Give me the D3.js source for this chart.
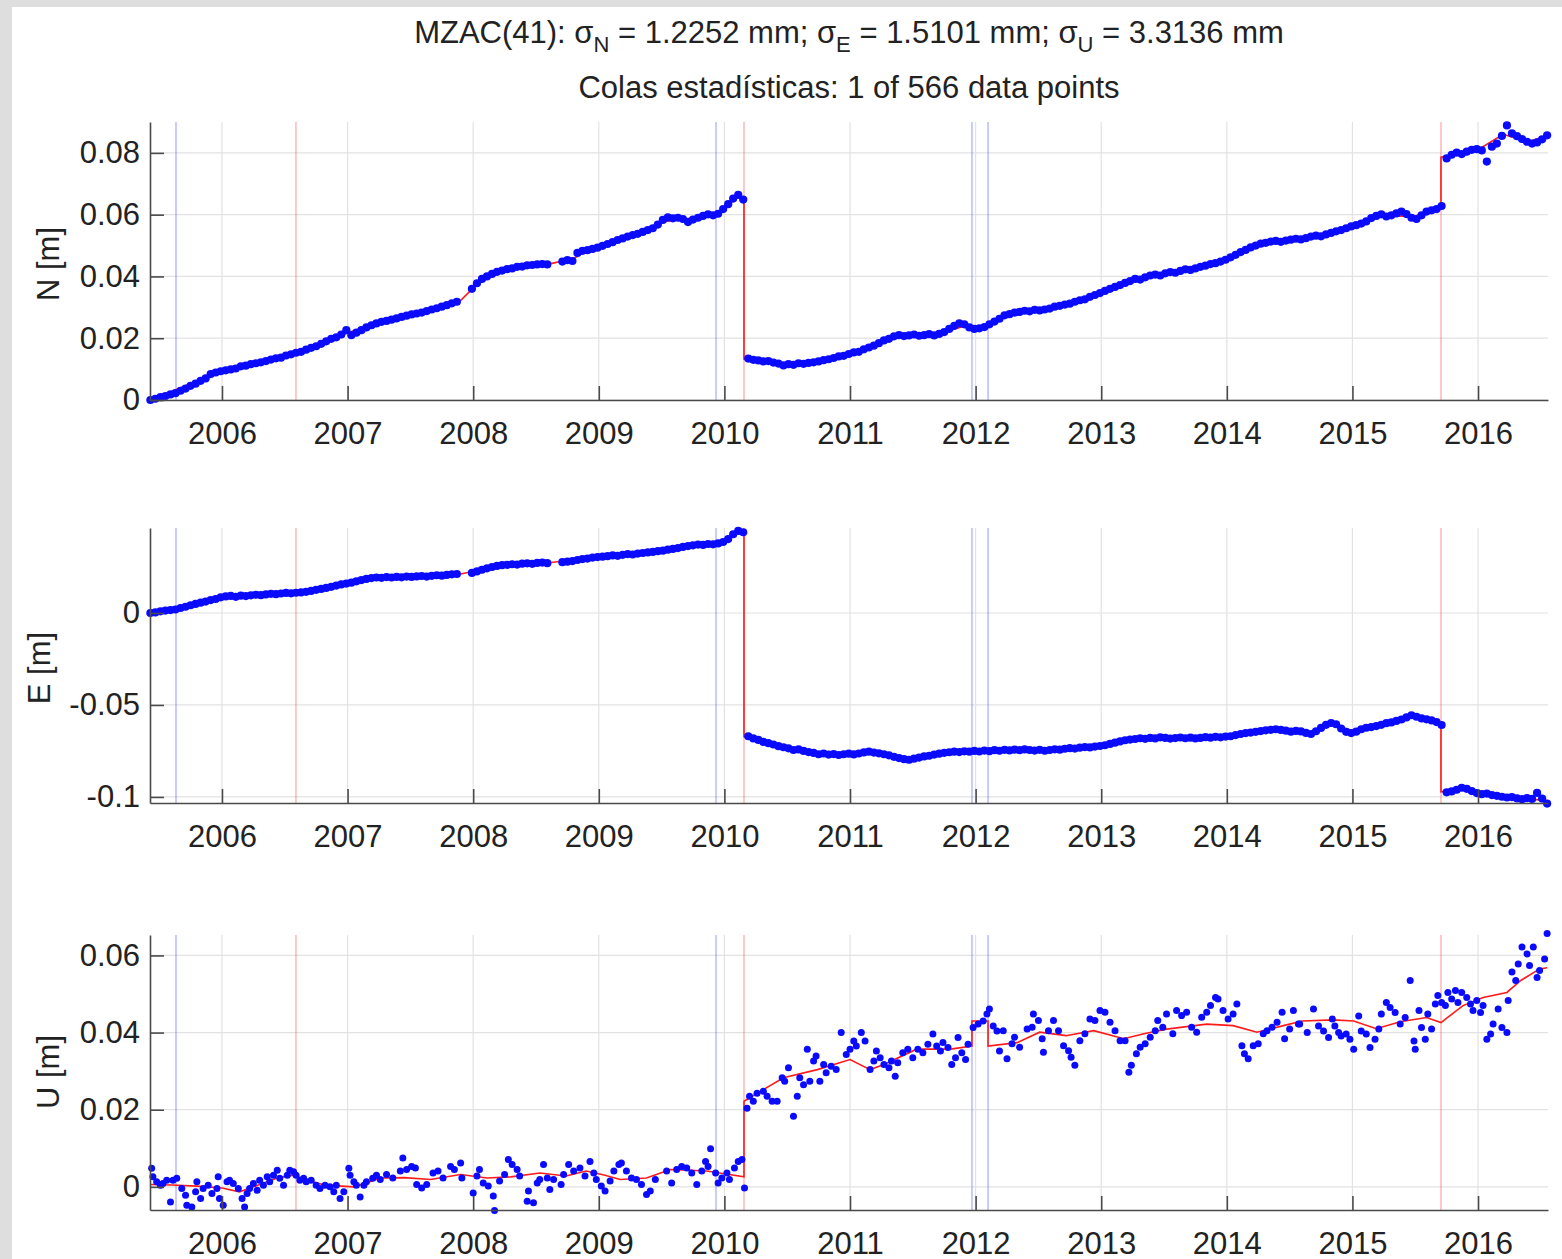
<!DOCTYPE html>
<html>
<head>
<meta charset="utf-8">
<script src="https://cdn.jsdelivr.net/npm/d3@7"></script>
<style>
  body { margin: 0; background: #fff; }
  svg text { font-family: "Liberation Sans", Arial, Helvetica, sans-serif; fill: #222; }
</style>
</head>
<body>
<div id="vis"></div>
<script>
// ---------------- datos (mm, años decimales) ----------------
const yearTicks = [2006, 2007, 2008, 2009, 2010, 2011, 2012, 2013, 2014, 2015, 2016];
const ticksN = [0, 0.02, 0.04, 0.06, 0.08];
const ticksE = [-0.1, -0.05, 0];
const ticksU = [0, 0.02, 0.04, 0.06];

// lineas de eventos (azul = cambio de equipo, rojo = sismo)
const blueEvents = [2005.634, 2009.933, 2011.971, 2012.099];
const redEvents = [2006.589, 2010.156, 2015.705];

// epocas de N y E (cada ~2 semanas)
const epochsNE = [
  2005.43, 2005.47, 2005.51, 2005.55, 2005.59, 2005.63, 2005.67, 2005.71, 2005.75, 2005.79, 2005.83, 2005.87, 2005.91, 2005.95, 2005.99,
  2006.03, 2006.07, 2006.11, 2006.15, 2006.19, 2006.23, 2006.27, 2006.31, 2006.35, 2006.39, 2006.43, 2006.47, 2006.51, 2006.55, 2006.59, 2006.63, 2006.67, 2006.71, 2006.75, 2006.79, 2006.83, 2006.87, 2006.91, 2006.95, 2006.99,
  2007.03, 2007.07, 2007.11, 2007.15, 2007.19, 2007.23, 2007.27, 2007.31, 2007.35, 2007.39, 2007.43, 2007.47, 2007.51, 2007.55, 2007.59, 2007.63, 2007.67, 2007.71, 2007.75, 2007.79, 2007.83, 2007.87, 2007.91, 2007.95, 2007.99,
  2008.03, 2008.07, 2008.11, 2008.15, 2008.19, 2008.23, 2008.27, 2008.31, 2008.35, 2008.39, 2008.43, 2008.47, 2008.51, 2008.55, 2008.59, 2008.63, 2008.67, 2008.71, 2008.75, 2008.79, 2008.83, 2008.87, 2008.91, 2008.95, 2008.99,
  2009.03, 2009.07, 2009.11, 2009.15, 2009.19, 2009.23, 2009.27, 2009.31, 2009.35, 2009.39, 2009.43, 2009.47, 2009.51, 2009.55, 2009.59, 2009.63, 2009.67, 2009.71, 2009.75, 2009.79, 2009.83, 2009.87, 2009.91, 2009.95, 2009.99,
  2010.03, 2010.07, 2010.11, 2010.15, 2010.19, 2010.23, 2010.27, 2010.31, 2010.35, 2010.39, 2010.43, 2010.47, 2010.51, 2010.55, 2010.59, 2010.63, 2010.67, 2010.71, 2010.75, 2010.79, 2010.83, 2010.87, 2010.91, 2010.95, 2010.99,
  2011.03, 2011.07, 2011.11, 2011.15, 2011.19, 2011.23, 2011.27, 2011.31, 2011.35, 2011.39, 2011.43, 2011.47, 2011.51, 2011.55, 2011.59, 2011.63, 2011.67, 2011.71, 2011.75, 2011.79, 2011.83, 2011.87, 2011.91, 2011.95, 2011.99,
  2012.03, 2012.07, 2012.11, 2012.15, 2012.19, 2012.23, 2012.27, 2012.31, 2012.35, 2012.39, 2012.43, 2012.47, 2012.51, 2012.55, 2012.59, 2012.63, 2012.67, 2012.71, 2012.75, 2012.79, 2012.83, 2012.87, 2012.91, 2012.95, 2012.99,
  2013.03, 2013.07, 2013.11, 2013.15, 2013.19, 2013.23, 2013.27, 2013.31, 2013.35, 2013.39, 2013.43, 2013.47, 2013.51, 2013.55, 2013.59, 2013.63, 2013.67, 2013.71, 2013.75, 2013.79, 2013.83, 2013.87, 2013.91, 2013.95, 2013.99,
  2014.03, 2014.07, 2014.11, 2014.15, 2014.19, 2014.23, 2014.27, 2014.31, 2014.35, 2014.39, 2014.43, 2014.47, 2014.51, 2014.55, 2014.59, 2014.63, 2014.67, 2014.71, 2014.75, 2014.79, 2014.83, 2014.87, 2014.91, 2014.95, 2014.99,
  2015.03, 2015.07, 2015.11, 2015.15, 2015.19, 2015.23, 2015.27, 2015.31, 2015.35, 2015.39, 2015.43, 2015.47, 2015.51, 2015.55, 2015.59, 2015.63, 2015.67, 2015.71, 2015.75, 2015.79, 2015.83, 2015.87, 2015.91, 2015.95, 2015.99,
  2016.03, 2016.07, 2016.11, 2016.15, 2016.19, 2016.23, 2016.27, 2016.31, 2016.35, 2016.39, 2016.43, 2016.47, 2016.51, 2016.55
];

// componente norte, mm
const obsN = [
  0.0, 0.4, 0.9, 1.3, 1.8, 2.2, 3.0, 3.7, 4.6, 5.3, 6.2, 7.0, 8.4, 8.9, 9.3,
  9.6, 9.9, 10.2, 10.9, 11.1, 11.6, 11.9, 12.2, 12.6, 13.1, 13.5, 13.7, 14.4, 14.8, 15.3, 15.6, 16.3, 16.9, 17.4, 18.2, 19.0, 19.8, 20.3, 21.2, 22.6,
  21.0, 21.8, 22.6, 23.5, 24.2, 24.8, 25.3, 25.6, 26.0, 26.4, 26.9, 27.3, 27.7, 28.0, 28.3, 28.8, 29.3, 29.7, 30.2, 30.7, 31.3, 31.8, null, null, 36.0,
  37.8, 39.2, 40.0, 40.8, 41.5, 41.9, 42.4, 42.6, 43.1, 43.2, 43.6, 43.7, 43.9, 44.0, 43.9, null, null, 44.8, 45.3, 45.0, 47.6, 48.3, 48.5, 48.9, 49.3,
  49.9, 50.5, 51.1, 51.8, 52.3, 52.9, 53.4, 53.8, 54.4, 55.0, 55.6, 56.8, 58.3, 59.1, 58.8, 59.0, 58.6, 57.6, 58.4, 59.0, 59.6, 60.1, 59.8, 60.3, 61.8,
  63.4, 65.2, 66.4, 64.9, 13.4, 13.0, 12.8, 12.5, 12.6, 12.1, 11.8, 11.2, 11.6, 11.4, 11.9, 11.7, 12.0, 12.2, 12.5, 12.9, 13.2, 13.6, 14.1, 14.3, 14.9,
  15.4, 15.6, 16.4, 17.0, 17.6, 18.4, 19.3, 19.8, 20.6, 21.0, 20.7, 20.9, 21.2, 20.8, 21.0, 21.3, 20.9, 21.4, 22.0, 23.0, 24.0, 24.8, 24.5, 23.5, 23.0,
  23.2, 23.6, 24.5, 25.4, 26.3, 27.4, 27.8, 28.3, 28.5, 28.9, 28.7, 29.2, 29.0, 29.3, 29.6, 30.2, 30.5, 30.9, 31.2, 31.8, 32.3, 32.6, 33.4, 34.0, 34.6,
  35.3, 36.0, 36.6, 37.2, 37.9, 38.5, 39.2, 39.0, 39.7, 40.3, 40.6, 40.3, 41.0, 41.4, 41.2, 41.8, 42.3, 42.1, 42.6, 43.1, 43.5, 44.0, 44.3, 44.8, 45.4,
  46.2, 47.0, 47.9, 48.6, 49.4, 50.0, 50.6, 50.9, 51.3, 51.5, 51.2, 51.6, 51.9, 52.2, 52.0, 52.4, 52.9, 53.2, 53.0, 53.6, 54.1, 54.6, 55.0, 55.6, 56.2,
  56.6, 57.1, 57.8, 58.9, 59.6, 60.1, 59.4, 59.8, 60.4, 61.0, 60.2, 59.0, 58.6, 59.8, 61.0, 61.4, 61.8, 62.8, 78.2, 79.4, 80.1, 79.6, 80.4, 81.0, 81.2,
  80.8, 77.2, 82.0, 83.0, 85.5, 88.9, 86.3, 85.4, 84.5, 83.6, 83.0, 83.4, 84.4, 85.7
];

// componente este, mm
const obsE = [
  0.0, 0.3, 0.9, 1.3, 1.6, 1.9, 2.7, 3.4, 4.2, 4.9, 5.6, 6.2, 7.0, 7.6, 8.5,
  9.0, 9.3, 8.8, 9.4, 9.2, 9.6, 9.9, 9.7, 10.1, 10.4, 10.2, 10.6, 10.9, 10.7, 11.0, 11.2, 11.5, 12.0, 12.6, 13.1, 13.6, 14.2, 14.9, 15.5, 16.0,
  16.5, 17.2, 17.9, 18.5, 19.0, 19.3, 19.1, 19.5, 19.3, 19.6, 19.4, 19.8, 19.6, 19.9, 20.1, 19.8, 20.2, 20.5, 20.3, 20.7, 21.0, 21.2, null, null, 21.8,
  22.6, 23.5, 24.3, 25.0, 25.6, 26.0, 26.2, 26.5, 26.3, 26.8, 27.0, 26.7, 27.2, 27.4, 27.1, null, null, 27.6, 27.9, 28.2, 28.8, 29.3, 29.6, 30.1, 30.4,
  30.6, 30.9, 31.3, 31.1, 31.6, 32.0, 31.8, 32.3, 32.6, 32.9, 33.2, 33.6, 33.9, 34.4, 34.8, 35.3, 35.9, 36.4, 36.8, 37.2, 37.0, 37.5, 37.3, 37.8, 38.6,
  40.2, 42.8, 44.6, 43.9, -67.0, -68.2, -69.0, -70.1, -70.8, -71.5, -72.4, -73.0, -73.6, -74.5, -74.2, -75.0, -75.6, -76.1, -76.8, -76.4, -77.0, -76.7, -77.2, -76.8, -76.5,
  -76.9, -76.4, -75.8, -75.4, -75.9, -76.3, -76.8, -77.4, -78.2, -78.9, -79.5, -79.8, -79.2, -78.6, -78.0, -77.6, -77.0, -76.5, -76.0, -75.7, -75.4, -75.6, -75.2, -75.4, -75.0,
  -75.3, -74.8, -75.1, -74.6, -74.9, -74.4, -74.7, -74.3, -74.6, -74.2, -74.5, -74.8, -74.4, -74.9, -74.5, -74.1, -74.3, -73.8, -73.5, -73.7, -73.2, -72.9, -73.1, -72.6, -72.3,
  -71.9, -71.2, -70.5, -69.8, -69.2, -68.8, -68.5, -68.1, -68.4, -67.9, -68.2, -67.6, -67.9, -68.3, -68.0, -67.7, -68.1, -67.8, -68.2, -67.9, -67.5, -67.8, -67.3, -67.6, -67.2,
  -67.0, -66.4, -65.8, -65.3, -65.0, -64.6, -64.2, -63.8, -63.5, -63.2, -63.6, -64.0, -64.5, -64.1, -64.4, -65.2, -65.8, -64.3, -62.5, -60.8, -59.8, -60.5, -62.8, -64.6, -65.3,
  -64.5, -63.2, -62.4, -62.0, -61.5, -60.8, -59.9, -59.5, -58.7, -57.9, -56.8, -55.6, -56.4, -57.3, -57.8, -58.4, -59.3, -60.9, -97.5, -97.0, -96.1, -95.0, -95.6, -96.8, -97.9,
  -98.5, -98.2, -99.0, -99.4, -99.9, -100.3, -100.1, -100.8, -101.2, -100.6, -101.1, -97.8, -100.9, -103.6
];

// componente vertical, [año, mm]
const obsU = [
  [2005.44, 4.8], [2005.45, 2.6], [2005.48, 1.3], [2005.51, 0.4], [2005.53, 0.9], [2005.56, 1.7], [2005.59, -3.9], [2005.61, 1.7],
  [2005.64, 2.2], [2005.68, -0.4], [2005.71, -2.2], [2005.72, -4.8], [2005.76, -5.2], [2005.79, -1.3], [2005.80, 1.3], [2005.83, -3.0],
  [2005.85, -0.4], [2005.89, 0.4], [2005.92, -1.7], [2005.96, -0.4], [2005.97, 2.6], [2005.98, -3.0], [2006.01, -4.8], [2006.04, 1.3],
  [2006.06, 1.7], [2006.09, 0.9], [2006.13, -0.4], [2006.16, -3.0], [2006.18, -5.2], [2006.20, -1.7], [2006.22, -0.4], [2006.25, 0.9],
  [2006.28, -0.9], [2006.30, 1.7], [2006.33, 0.4], [2006.36, 2.6], [2006.38, 1.3], [2006.41, 3.0], [2006.44, 4.3], [2006.46, 2.2],
  [2006.49, 0.4], [2006.52, 3.0], [2006.54, 4.3], [2006.57, 3.9], [2006.59, 3.0], [2006.62, 1.7], [2006.65, 2.2], [2006.67, 1.3],
  [2006.71, 1.7], [2006.75, 0.4], [2006.78, -0.4], [2006.82, 0.4], [2006.86, 0.0], [2006.89, -1.3], [2006.91, 0.4], [2006.94, -3.0],
  [2006.97, -1.3], [2007.01, 4.8], [2007.02, 3.0], [2007.05, 1.3], [2007.07, 0.4], [2007.10, -2.6], [2007.13, 0.4], [2007.15, 1.3],
  [2007.20, 2.2], [2007.23, 3.0],
  [2007.26, 1.9], [2007.31, 3.2], [2007.36, 2.3], [2007.42, 4.1], [2007.44, 7.5], [2007.47, 4.5], [2007.51, 5.3], [2007.54, 4.9],
  [2007.55, 0.6], [2007.59, -0.3], [2007.63, 0.6], [2007.68, 3.6], [2007.72, 4.1], [2007.76, 2.3], [2007.82, 5.3], [2007.85, 4.5],
  [2007.90, 6.2], [2007.91, 2.3], [2008.00, -1.6], [2008.03, 2.8], [2008.05, 4.5], [2008.08, 1.0], [2008.12, 0.2], [2008.16, -2.4],
  [2008.17, -6.1], [2008.21, 1.5], [2008.25, 3.2], [2008.28, 7.1], [2008.31, 5.8], [2008.35, 4.5], [2008.37, 2.8], [2008.43, -3.7],
  [2008.44, -1.1], [2008.48, -4.1], [2008.51, 1.0], [2008.53, 1.9], [2008.56, 5.8], [2008.59, 2.3], [2008.61, -0.7], [2008.64, 1.9],
  [2008.70, 0.6], [2008.72, 3.2], [2008.76, 5.8], [2008.80, 4.1], [2008.85, 4.9], [2008.89, 2.8], [2008.93, 6.6], [2008.96, 3.6],
  [2008.98, 1.9], [2009.02, 0.2], [2009.05, -1.1], [2009.09, 1.5], [2009.12, 4.1], [2009.16, 5.8], [2009.18, 6.2], [2009.22, 4.1],
  [2009.26, 2.3], [2009.30, 1.9], [2009.34, 0.6], [2009.38, -2.0], [2009.41, -1.1], [2009.45, 1.9], [2009.54, 4.1], [2009.58, 1.0],
  [2009.62, 4.5], [2009.66, 5.3], [2009.70, 4.9], [2009.74, 3.6], [2009.78, 0.6], [2009.82, 4.1], [2009.85, 6.6], [2009.87, 5.3],
  [2009.89, 9.9], [2009.93, 3.6], [2009.95, 1.0], [2009.98, 2.3], [2010.02, 3.6], [2010.04, 1.9], [2010.08, 4.9], [2010.11, 6.6],
  [2010.14, 7.1], [2010.16, -0.3],
  [2010.18, 20.4], [2010.20, 23.5], [2010.23, 22.2], [2010.26, 24.3], [2010.31, 24.8], [2010.34, 23.5], [2010.38, 22.2], [2010.42, 22.2],
  [2010.46, 28.3], [2010.48, 27.4], [2010.51, 30.9], [2010.55, 18.3], [2010.58, 23.5], [2010.60, 28.3], [2010.63, 26.5], [2010.66, 35.7],
  [2010.68, 27.4], [2010.71, 32.6], [2010.73, 33.9], [2010.76, 27.4], [2010.79, 31.7], [2010.81, 29.6], [2010.85, 31.3], [2010.89, 30.4],
  [2010.93, 40.0], [2010.97, 34.3], [2011.00, 35.7], [2011.03, 37.8], [2011.05, 36.5], [2011.09, 40.0], [2011.12, 37.8], [2011.16, 30.4],
  [2011.19, 32.6], [2011.21, 35.2], [2011.24, 33.5], [2011.27, 31.7], [2011.31, 30.9], [2011.33, 32.6], [2011.36, 28.7], [2011.38, 32.2],
  [2011.42, 34.8], [2011.46, 35.7], [2011.50, 33.5], [2011.54, 35.7], [2011.58, 34.8], [2011.62, 37.0], [2011.66, 39.6], [2011.69, 36.5],
  [2011.72, 35.2], [2011.74, 37.4], [2011.78, 36.1], [2011.81, 31.7], [2011.84, 33.5], [2011.86, 38.7], [2011.89, 34.8], [2011.92, 33.0],
  [2011.94, 37.0], [2011.98, 41.3], [2012.02, 42.2], [2012.06, 43.0], [2012.09, 44.8], [2012.11, 46.1], [2012.14, 41.7], [2012.17, 40.4],
  [2012.19, 35.2],
  [2012.22, 40.5], [2012.25, 33.2], [2012.29, 37.1], [2012.31, 38.8], [2012.35, 36.2], [2012.41, 40.9], [2012.45, 41.4], [2012.46, 44.8],
  [2012.50, 43.1], [2012.53, 38.4], [2012.54, 34.9], [2012.58, 40.5], [2012.62, 43.1], [2012.66, 40.5], [2012.70, 36.6], [2012.74, 35.3],
  [2012.76, 33.6], [2012.79, 31.5], [2012.83, 37.9], [2012.87, 39.7], [2012.91, 43.5], [2012.95, 43.1], [2012.99, 45.7], [2013.03, 45.3],
  [2013.07, 42.7], [2013.11, 40.5], [2013.15, 37.9], [2013.19, 37.9], [2013.22, 29.7], [2013.24, 31.5], [2013.28, 34.5], [2013.31, 36.2],
  [2013.35, 37.1], [2013.39, 38.8], [2013.43, 40.5], [2013.45, 43.1], [2013.49, 41.4], [2013.52, 44.8], [2013.57, 39.7], [2013.60, 45.7],
  [2013.64, 44.4], [2013.68, 45.3], [2013.72, 41.4], [2013.76, 40.1], [2013.80, 44.0], [2013.84, 45.3], [2013.87, 47.0], [2013.91, 49.1],
  [2013.93, 48.7], [2013.97, 45.7], [2014.01, 43.5], [2014.05, 44.8], [2014.08, 47.4], [2014.12, 36.6], [2014.14, 34.5], [2014.17, 33.2],
  [2014.21, 36.6], [2014.25, 37.1], [2014.29, 39.7], [2014.32, 40.5], [2014.36, 41.4], [2014.40, 42.7], [2014.44, 45.3], [2014.46, 38.4],
  [2014.50, 40.9], [2014.53, 45.7], [2014.57, 42.2],
  [2014.58, 42.2], [2014.64, 40.0], [2014.69, 46.1], [2014.73, 41.7], [2014.77, 40.4], [2014.81, 38.7], [2014.84, 43.5], [2014.86, 41.7],
  [2014.89, 40.0], [2014.91, 39.1], [2014.95, 39.6], [2014.98, 38.3], [2015.01, 35.7], [2015.05, 44.3], [2015.07, 40.4], [2015.11, 39.6],
  [2015.14, 36.1], [2015.18, 38.3], [2015.21, 40.9], [2015.23, 44.8], [2015.27, 47.8], [2015.30, 46.5], [2015.34, 45.2], [2015.38, 42.2],
  [2015.42, 43.9], [2015.46, 53.5], [2015.49, 37.8], [2015.50, 35.7], [2015.53, 45.7], [2015.55, 41.3], [2015.58, 38.3], [2015.60, 44.8],
  [2015.63, 40.9], [2015.66, 47.4], [2015.68, 49.6], [2015.71, 47.8], [2015.74, 47.0], [2015.76, 50.4], [2015.79, 48.7], [2015.82, 50.9],
  [2015.84, 47.8], [2015.87, 50.4], [2015.91, 49.1], [2015.94, 47.4], [2015.96, 45.7], [2015.99, 48.3], [2016.02, 45.2], [2016.04, 47.0],
  [2016.07, 38.3], [2016.10, 39.6], [2016.12, 42.2], [2016.16, 46.1], [2016.19, 41.3], [2016.23, 40.0], [2016.24, 48.3], [2016.27, 55.7],
  [2016.30, 53.5], [2016.32, 57.8], [2016.35, 62.2], [2016.39, 60.4], [2016.41, 57.4], [2016.44, 62.2], [2016.47, 54.3], [2016.49, 56.1],
  [2016.53, 59.1], [2016.55, 65.7]
];

// modelo ajustado (linea roja), [año, mm]
const modelN = [
  [2005.43, 0.0], [2005.9, 7.8], [2006.3, 12.2], [2006.6, 15.3], [2006.9, 19.8], [2007.0, 21.8], [2007.3, 25.4], [2007.6, 28.4],
  [2007.9, 32.2], [2008.0, 36.3], [2008.1, 39.4], [2008.3, 42.3], [2008.6, 44.0], [2008.8, 45.8], [2008.9, 48.2], [2009.2, 52.4],
  [2009.5, 57.6], [2009.8, 59.2], [2010.0, 61.5], [2010.1, 65.8], [2010.156, 65.2], [2010.156, 13.3], [2010.5, 11.6], [2010.8, 12.9],
  [2011.1, 16.0], [2011.4, 20.6], [2011.7, 21.3], [2011.9, 23.8], [2012.0, 23.2], [2012.3, 27.6], [2012.6, 29.4], [2012.9, 33.0],
  [2013.2, 38.2], [2013.5, 40.8], [2013.8, 42.9], [2014.0, 45.9], [2014.3, 50.6], [2014.6, 52.2], [2014.9, 54.8], [2015.2, 59.4],
  [2015.5, 59.6], [2015.705, 62.6], [2015.705, 78.6], [2016.0, 81.0], [2016.2, 86.0], [2016.4, 83.6], [2016.55, 85.6]
];
const modelE = [
  [2005.43, 0.0], [2005.7, 2.8], [2006.0, 8.2], [2006.3, 9.6], [2006.6, 10.9], [2006.9, 14.8], [2007.2, 19.0], [2007.6, 19.8],
  [2007.9, 21.2], [2008.1, 24.0], [2008.3, 26.2], [2008.6, 27.3], [2008.9, 29.6], [2009.2, 31.6], [2009.5, 33.7], [2009.8, 37.1],
  [2010.0, 39.0], [2010.1, 43.8], [2010.156, 44.0], [2010.156, -67.2], [2010.4, -71.4], [2010.7, -75.8], [2011.0, -76.6], [2011.2, -75.9],
  [2011.45, -79.0], [2011.7, -76.6], [2011.98, -75.1], [2012.5, -74.6], [2012.8, -73.6], [2013.0, -72.1], [2013.3, -68.4], [2013.6, -68.0],
  [2014.0, -67.2], [2014.4, -63.6], [2014.65, -65.0], [2014.85, -60.5], [2015.0, -64.0], [2015.3, -59.6], [2015.47, -56.2], [2015.705, -60.6],
  [2015.705, -97.2], [2015.9, -95.6], [2016.2, -99.8], [2016.55, -102.0]
];
const modelU = [
  [2005.43, 0.6], [2005.6, 0.5], [2005.8, 0.2], [2006.0, -0.3], [2006.14, -1.3], [2006.3, 0.6], [2006.45, 2.4], [2006.57, 3.0],
  [2006.7, 1.6], [2006.8, 0.6], [2006.95, 0.2], [2007.05, 0.0], [2007.15, 1.0], [2007.26, 2.3], [2007.45, 2.4], [2007.66, 1.9],
  [2007.9, 3.2], [2008.11, 2.3], [2008.3, 2.6], [2008.53, 3.6], [2008.74, 2.8], [2008.9, 4.1], [2009.05, 3.0], [2009.17, 1.9],
  [2009.38, 2.3], [2009.57, 4.5], [2009.86, 4.1], [2010.0, 3.4], [2010.156, 2.6], [2010.156, 22.2], [2010.3, 25.0], [2010.47, 28.3],
  [2010.74, 30.4], [2011.0, 33.0], [2011.16, 30.4], [2011.27, 31.7], [2011.53, 35.7], [2011.8, 35.7], [2011.971, 36.5], [2011.971, 43.0],
  [2012.099, 43.0], [2012.099, 36.5], [2012.33, 37.4], [2012.51, 40.1], [2012.72, 39.2], [2012.94, 40.5], [2013.18, 38.4], [2013.34, 39.7],
  [2013.52, 40.9], [2013.84, 42.2], [2014.05, 41.8], [2014.24, 40.1], [2014.45, 41.8], [2014.6, 43.0], [2014.85, 43.3], [2015.01, 43.0],
  [2015.19, 41.0], [2015.38, 42.8], [2015.59, 43.9], [2015.705, 42.6], [2015.88, 47.0], [2016.04, 49.1], [2016.23, 50.4], [2016.34, 53.5],
  [2016.49, 56.5], [2016.55, 56.8]
];

// ---------------- dibujo ----------------
const W = 1562, H = 1259;
const FONT = 31;

const svg = d3.select("#vis").append("svg").attr("width", W).attr("height", H);

// borde gris de la captura
svg.append("rect").attr("width", W).attr("height", H).attr("fill", "#dedede");
svg.append("rect").attr("x", 12).attr("y", 7).attr("width", W - 12).attr("height", H - 7).attr("fill", "#fff");

const x = d3.scaleLinear().domain([2005.427, 2016.557]).range([150, 1548]);

const panels = [
  { label: "N [m]", top: 122, bottom: 400, domain: [0, 0.09], ticks: ticksN, labelX: 59, labelY: 264, r: 4.1,
    obs: epochsNE.map((t, i) => [t, obsN[i]]), model: modelN },
  { label: "E [m]", top: 528, bottom: 803, domain: [-0.1033, 0.0462], ticks: ticksE, labelX: 50, labelY: 668, r: 4.1,
    obs: epochsNE.map((t, i) => [t, obsE[i]]), model: modelE },
  { label: "U [m]", top: 935, bottom: 1210, domain: [-0.006, 0.0653], ticks: ticksU, labelX: 59, labelY: 1072, r: 3.5,
    obs: obsU, model: modelU }
];

panels.forEach(p => {
  const y = d3.scaleLinear().domain(p.domain).range([p.bottom, p.top]);
  const g = svg.append("g");

  // rejilla
  g.append("g").selectAll("line").data(yearTicks).join("line")
    .attr("x1", d => x(d)).attr("x2", d => x(d))
    .attr("y1", p.top).attr("y2", p.bottom)
    .attr("stroke", "#e2e2e2").attr("stroke-width", 1.2);
  g.append("g").selectAll("line").data(p.ticks).join("line")
    .attr("x1", x.range()[0]).attr("x2", x.range()[1])
    .attr("y1", d => y(d)).attr("y2", d => y(d))
    .attr("stroke", "#e2e2e2").attr("stroke-width", 1.2);

  // eventos
  g.append("g").selectAll("line").data(blueEvents).join("line")
    .attr("x1", d => x(d)).attr("x2", d => x(d))
    .attr("y1", p.top).attr("y2", p.bottom)
    .attr("stroke", "rgba(70,70,255,0.4)").attr("stroke-width", 1.4);
  g.append("g").selectAll("line").data(redEvents).join("line")
    .attr("x1", d => x(d)).attr("x2", d => x(d))
    .attr("y1", p.top).attr("y2", p.bottom)
    .attr("stroke", "rgba(255,60,60,0.4)").attr("stroke-width", 1.4);

  // modelo
  const line = d3.line().x(d => x(d[0])).y(d => y(d[1] / 1000));
  g.append("path").datum(p.model)
    .attr("d", line)
    .attr("fill", "none").attr("stroke", "#ff1a1a").attr("stroke-width", 1.6);

  // observaciones
  g.append("g").selectAll("circle")
    .data(p.obs.filter(d => d[1] !== null))
    .join("circle")
    .attr("cx", d => x(d[0])).attr("cy", d => y(d[1] / 1000))
    .attr("r", p.r).attr("fill", "#0a0aff");

  // ejes
  const ax = g.append("g").attr("transform", `translate(0,${p.bottom})`)
    .call(d3.axisBottom(x).tickValues(yearTicks).tickFormat(d => String(d))
      .tickSizeInner(-14).tickSizeOuter(0).tickPadding(22));
  const ay = g.append("g").attr("transform", `translate(${x.range()[0]},0)`)
    .call(d3.axisLeft(y).tickValues(p.ticks).tickFormat(d => String(d))
      .tickSizeInner(-14).tickSizeOuter(0).tickPadding(10));
  [ax, ay].forEach(a => {
    a.attr("font-size", null).attr("font-family", null);
    a.select(".domain").attr("stroke", "#4a4a4a").attr("stroke-width", 1.6);
    a.selectAll(".tick line").attr("stroke", "#4a4a4a").attr("stroke-width", 1.6);
    a.selectAll(".tick text").attr("font-size", FONT).attr("fill", "#222");
  });

  g.append("text")
    .attr("transform", `translate(${p.labelX},${p.labelY}) rotate(-90)`)
    .attr("text-anchor", "middle")
    .attr("font-size", FONT)
    .text(p.label);
});

// titulo
const title = svg.append("text").attr("x", 849).attr("y", 43)
  .attr("text-anchor", "middle").attr("font-size", FONT);
title.append("tspan").text("MZAC(41): σ");
title.append("tspan").attr("font-size", 22).attr("dy", 9).text("N");
title.append("tspan").attr("dy", -9).text(" = 1.2252 mm; σ");
title.append("tspan").attr("font-size", 22).attr("dy", 9).text("E");
title.append("tspan").attr("dy", -9).text(" = 1.5101 mm; σ");
title.append("tspan").attr("font-size", 22).attr("dy", 9).text("U");
title.append("tspan").attr("dy", -9).text(" = 3.3136 mm");

svg.append("text").attr("x", 849).attr("y", 98)
  .attr("text-anchor", "middle").attr("font-size", FONT)
  .text("Colas estadísticas: 1 of 566 data points");
</script>
</body>
</html>
